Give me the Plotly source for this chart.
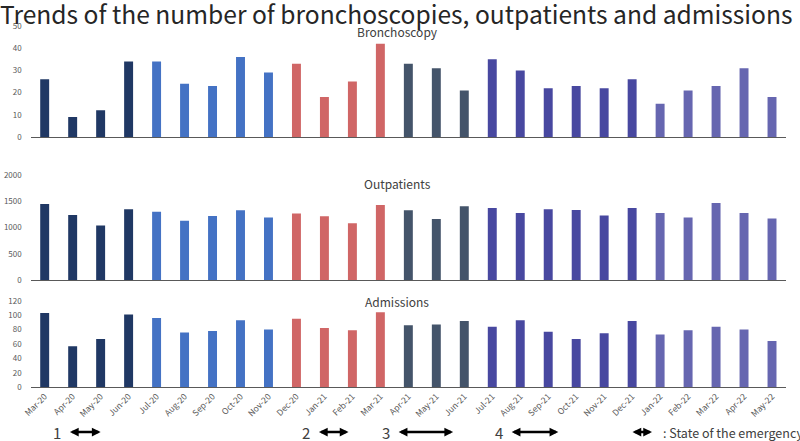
import plotly.graph_objects as go

months = ["Mar-20", "Apr-20", "May-20", "Jun-20", "Jul-20", "Aug-20", "Sep-20", "Oct-20", "Nov-20",
          "Dec-20", "Jan-21", "Feb-21", "Mar-21", "Apr-21", "May-21", "Jun-21", "Jul-21", "Aug-21",
          "Sep-21", "Oct-21", "Nov-21", "Dec-21", "Jan-22", "Feb-22", "Mar-22", "Apr-22", "May-22"]

bronchoscopy = [26, 9, 12, 34, 34, 24, 23, 36, 29, 33, 18, 25, 42, 33, 31, 21, 35, 30, 22, 23, 22, 26,
                15, 21, 23, 31, 18]
outpatients = [1450, 1240, 1040, 1350, 1300, 1130, 1220, 1330, 1190, 1265, 1215, 1080, 1430, 1330,
               1160, 1405, 1370, 1275, 1350, 1335, 1230, 1370, 1275, 1190, 1465, 1275, 1170]
admissions = [103, 57, 67, 101, 96, 76, 78, 93, 80, 95, 82, 79, 104, 86, 87, 92, 84, 93, 77, 67, 75,
              92, 73, 79, 84, 80, 64]

# period groups (number of months in each) and their colours
group_sizes = [4, 5, 4, 3, 6, 5]
group_colors = ["#203864", "#4472C4", "#D06666", "#44546A", "#4848A0", "#6666B0"]

# states of emergency: (label, start, end) in category positions
emergencies = [("1", 0.85, 2.0), ("2", 9.75, 10.86), ("3", 12.6, 14.6), ("4", 16.64, 18.36)]

colors = []
for n, c in zip(group_sizes, group_colors):
    colors += [c] * n

FONT = "Noto Sans CJK JP"
GRAY = "#595959"
W, H = 800, 441


def py(px):
    return 1 - px / H


fig = go.Figure()
series = [(bronchoscopy, "x", "y"), (outpatients, "x2", "y2"), (admissions, "x3", "y3")]
for vals, xa, ya in series:
    fig.add_trace(go.Bar(x=months, y=vals, marker=dict(color=colors, line=dict(width=0)),
                         xaxis=xa, yaxis=ya, showlegend=False))

xdom = [30.7 / W, 786 / W]
common_x = dict(domain=xdom, type="category", range=[-0.5, 26.5], showline=True, linecolor=GRAY,
                linewidth=1, ticks="", showgrid=False, zeroline=False, fixedrange=True,
                automargin=False, categoryorder="array", categoryarray=months)
common_y = dict(showgrid=False, zeroline=False, showline=False, ticks="", automargin=False,
                fixedrange=True, tickfont=dict(family=FONT, size=8, color=GRAY),
                ticklabelstandoff=8)

fig.update_layout(
    template="none",
    width=W, height=H,
    margin=dict(l=0, r=0, t=0, b=0, pad=0),
    paper_bgcolor="white", plot_bgcolor="white",
    bargap=0.68,
    font=dict(family=FONT, color="#404040"),
    xaxis=dict(**common_x, anchor="y", showticklabels=False),
    xaxis2=dict(**common_x, anchor="y2", showticklabels=False),
    xaxis3=dict(**common_x, anchor="y3", showticklabels=True, tickangle=-45,
                tickfont=dict(family=FONT, size=8.5, color=GRAY)),
    yaxis=dict(**common_y, domain=[py(137), py(26)], range=[0, 50], dtick=10, anchor="x"),
    yaxis2=dict(**common_y, domain=[py(280), py(175)], range=[0, 2000], dtick=500, anchor="x2"),
    yaxis3=dict(**common_y, domain=[py(387.3), py(300.7)], range=[0, 120], dtick=20, anchor="x3"),
)

# main title
fig.add_annotation(text="Trends of the number of bronchoscopies, outpatients and admissions",
                   x=396 / W, y=py(13), xref="paper", yref="paper", showarrow=False,
                   xanchor="center", yanchor="middle",
                   font=dict(family=FONT, size=24.6, color="#262626"))

# panel titles
for txt, ypx in [("Bronchoscopy", 31), ("Outpatients", 183), ("Admissions", 301)]:
    fig.add_annotation(text=txt, x=397 / W, y=py(ypx), xref="paper", yref="paper",
                       showarrow=False, xanchor="center", yanchor="middle",
                       font=dict(family=FONT, size=12, color="#404040"))

arrow_y = py(432)
for lab, x0, x1 in emergencies:
    fig.add_annotation(text="", x=x1, y=arrow_y, ax=x0, ay=0, xref="x3", yref="paper",
                       axref="x3", ayref="pixel", showarrow=True, arrowhead=2, arrowsize=0.7,
                       arrowwidth=2.5, arrowcolor="black", arrowside="end+start",
                       standoff=0, startstandoff=0)
    fig.add_annotation(text=lab, x=x0, y=arrow_y, xref="x3", yref="paper", showarrow=False,
                       xanchor="right", yanchor="middle", xshift=-5,
                       font=dict(family=FONT, size=15, color="#404040"))

# legend for arrows
fig.add_annotation(text="", x=652 / W, y=arrow_y, ax=-21, ay=0, xref="paper",
                   yref="paper", axref="pixel", ayref="pixel", showarrow=True, arrowhead=2,
                   arrowsize=0.7, arrowwidth=2.5, arrowcolor="black", arrowside="end+start",
                   standoff=0, startstandoff=0)
fig.add_annotation(text=": State of the emergency", x=661 / W, y=arrow_y, xref="paper",
                   yref="paper", showarrow=False, xanchor="left", yanchor="middle",
                   font=dict(family=FONT, size=12.5, color="#404040"))

fig.write_html("out.html", config={"displayModeBar": False},
               post_script="document.body.style.margin='0';document.body.style.overflow='hidden';")
